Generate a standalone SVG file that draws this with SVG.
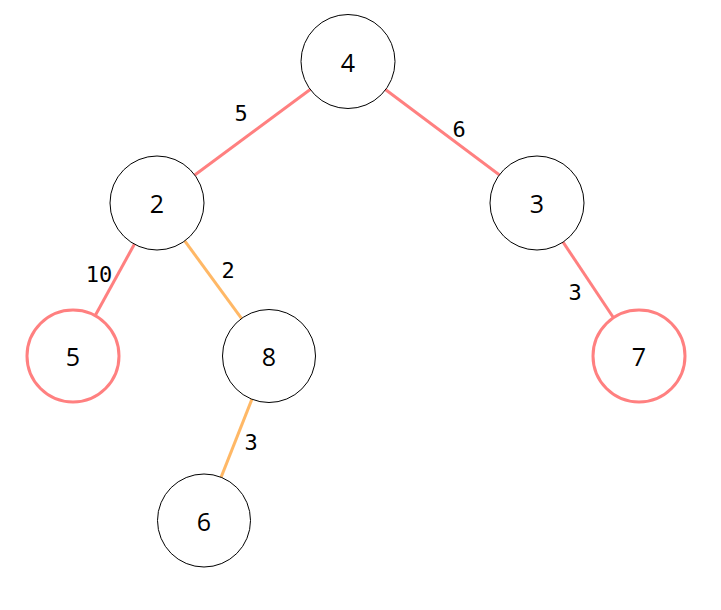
<svg xmlns="http://www.w3.org/2000/svg" width="721" height="610" viewBox="0 0 721 610">
<style>
.edge{fill:none;stroke-width:3}
.red{stroke:#FF8080}
.orange{stroke:#FFB866}
.node circle{fill:#FFFFFF;stroke:#000000;stroke-width:1}
.node.hl circle{stroke:#FF8080;stroke-width:3}
.nlabel{font-family:"Open Sans","DejaVu Sans",sans-serif;font-size:25px;fill:#000;text-anchor:middle;dominant-baseline:central}
.elabel{font-family:"DejaVu Sans Mono","Liberation Mono",monospace;font-size:22px;fill:#000;text-anchor:middle;dominant-baseline:central}
</style>
<rect width="721" height="610" fill="#FFFFFF"/>
<g id="connectors">
<line class="edge red" x1="348" y1="61.5" x2="157" y2="203"/>
<line class="edge red" x1="348" y1="61.5" x2="537" y2="203"/>
<line class="edge red" x1="157" y1="203" x2="73" y2="356"/>
<line class="edge orange" x1="157" y1="203" x2="269" y2="356"/>
<line class="edge red" x1="537" y1="203" x2="639" y2="356"/>
<line class="edge orange" x1="269" y1="356" x2="204" y2="520.5"/>
<text class="elabel" x="241" y="113">5</text>
<text class="elabel" x="459" y="129">6</text>
<text class="elabel" x="99" y="274">10</text>
<text class="elabel" x="228" y="270">2</text>
<text class="elabel" x="575" y="292">3</text>
<text class="elabel" x="251" y="442">3</text>
</g>
<g id="node-4" class="node"><circle cx="348" cy="61.5" r="47"/><text class="nlabel" x="348" y="61.5">4</text></g>
<g id="node-2" class="node"><circle cx="157" cy="203" r="47"/><text class="nlabel" x="157" y="203">2</text></g>
<g id="node-3" class="node"><circle cx="537" cy="203" r="47"/><text class="nlabel" x="537" y="203">3</text></g>
<g id="node-5" class="node hl"><circle cx="73" cy="356" r="46"/><text class="nlabel" x="73" y="356">5</text></g>
<g id="node-8" class="node"><circle cx="269" cy="356" r="46.5"/><text class="nlabel" x="269" y="356">8</text></g>
<g id="node-7" class="node hl"><circle cx="639" cy="356" r="46"/><text class="nlabel" x="639" y="356">7</text></g>
<g id="node-6" class="node"><circle cx="204" cy="520.5" r="46.5"/><text class="nlabel" x="204" y="520.5">6</text></g>
</svg>
